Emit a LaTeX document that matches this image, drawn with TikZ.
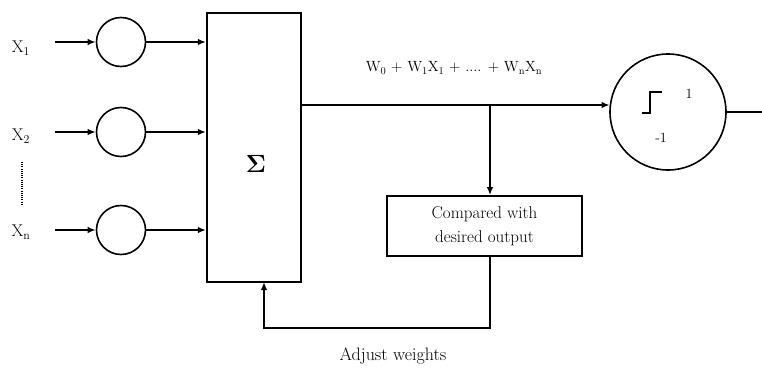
\documentclass[tikz,border=0pt]{standalone}
\usetikzlibrary{arrows.meta}
\begin{document}
\begin{tikzpicture}[x=1pt,y=-1pt,
  line/.style={line width=1.6pt},
  arr/.style={line width=1.6pt,-{Latex[length=8pt,width=6.5pt]}},
  unit/.style={circle,draw,line width=1.6pt,minimum size=49pt,inner sep=0pt},
  lbl/.style={inner sep=0pt,font=\fontsize{17}{24}\selectfont},
  small/.style={inner sep=0pt,font=\fontsize{14}{16}\selectfont}]
\useasboundingbox (0,0) rectangle (762,367);
% inputs
\node[lbl] (x1) at (21,48) {X\textsubscript{1}};
\node[lbl] (x2) at (21,136) {X\textsubscript{2}};
\node[lbl] (xn) at (21,232) {X\textsubscript{n}};
\draw[line width=1.2pt,dash pattern=on 1pt off 1.2pt] (22,162) -- (22,204);
\coordinate (i1) at (55,42);
\coordinate (i2) at (55,132);
\coordinate (i3) at (55,230);
\node[unit] (c1) at (121,42) {};
\node[unit] (c2) at (121,132) {};
\node[unit] (c3) at (121,230) {};
\node[draw,line width=2.2pt,minimum width=94pt,minimum height=269pt,inner sep=0pt] (sum) at (254,147.5) {};
\node[inner sep=0pt,font=\fontsize{28}{28}\selectfont] (sig) at (256,164) {$\mathbf{\Sigma}$};
\draw[arr] (i1) -- (c1);
\draw[arr] (i2) -- (c2);
\draw[arr] (i3) -- (c3);
\draw[arr] (c1) -- (c1 -| sum.west);
\draw[arr] (c2) -- (c2 -| sum.west);
\draw[arr] (c3) -- (c3 -| sum.west);
% output unit
\node[circle,draw,line width=1.6pt,minimum size=116pt,inner sep=0pt] (big) at (668,112) {};
\coordinate (tap) at (490,105);
\coordinate (out) at (762,112);
\draw[arr] (sum.east |- tap) -- (big.173 |- tap);
\draw[line] (big.east) -- (out);
\draw[line width=1.4pt] (642,113) -- (650,113) -- (650,92) -- (662,92);
\node[small] (one) at (689,94) {1};
\node[small] (mone) at (661,138) {-1};
\node[inner sep=0pt,font=\fontsize{14.8}{16}\selectfont] (formula) at (454,68) {W\textsubscript{0} + W\textsubscript{1}X\textsubscript{1} + .... + W\textsubscript{n}X\textsubscript{n}};
% compare box
\node[draw,line width=1.8pt,minimum width=195pt,minimum height=60pt,inner sep=0pt,align=center,font=\fontsize{17}{24}\selectfont] (cmp) at (484.5,226) {Compared with\\desired output};
\draw[arr] (tap) -- (cmp.north -| tap);
\coordinate (fb) at (264,282);
\draw[arr] (cmp.south -| tap) -- ++(0,71) -| (fb);
\node[inner sep=0pt,font=\fontsize{18}{20}\selectfont] (adj) at (393,356) {Adjust weights};
\end{tikzpicture}
\end{document}
